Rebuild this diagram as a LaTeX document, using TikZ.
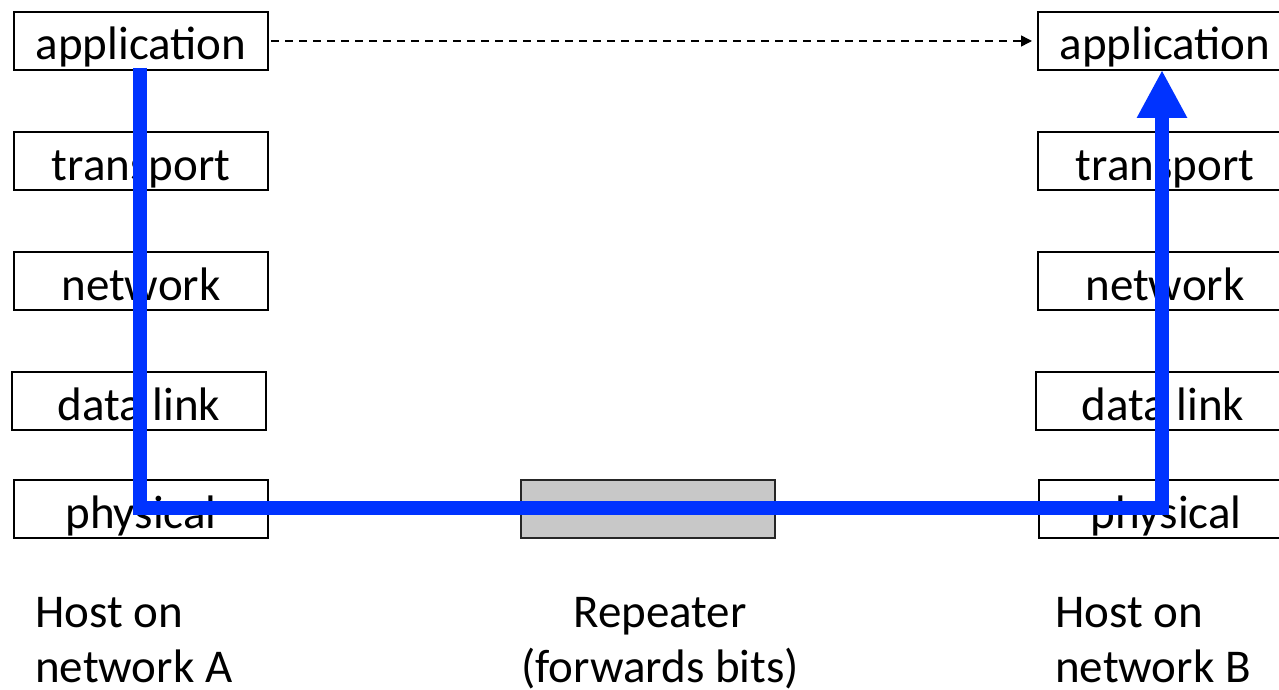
\documentclass[tikz,border=0pt]{standalone}
\usepackage{fontspec}
\setmainfont{Carlito}
\usetikzlibrary{arrows.meta}
\definecolor{flowblue}{HTML}{0033FF}
\definecolor{repgray}{HTML}{C8C8C8}
\tikzset{
  layer/.style={draw=black, line width=2pt, inner sep=0pt, minimum width=254pt, minimum height=58pt,
    text height=46pt, text depth=8pt, font=\fontsize{47}{55}\selectfont},
  repbox/.style={draw=black!85, fill=repgray, line width=2pt, minimum width=254pt, minimum height=58pt, inner sep=0pt},
  caption/.style={inner sep=0pt, font=\fontsize{47}{55}\selectfont},
  flow/.style={draw=flowblue, line width=14pt, line join=miter},
  peer/.style={draw=black, line width=1.5pt, dash pattern=on 8pt off 6pt, -{Triangle[width=11pt,length=11pt]}}
}
\begin{document}
\begin{tikzpicture}[x=1pt,y=-1pt]
\clip (0,0) rectangle (1279,690);
\fill[white] (0,0) rectangle (1279,690);
% host A
\node[layer] (appA) at (141,41) {application};
\node[layer] (traA) at (141,161) {transport};
\node[layer] (netA) at (141,281) {network};
\node[layer] (dlA) at (139,401) {data link};
\node[layer] (phyA) at (141,509) {physical};
% host B
\node[layer] (appB) at (1165,41) {application};
\node[layer] (traB) at (1165,161) {transport};
\node[layer] (netB) at (1165,281) {network};
\node[layer] (dlB) at (1163,401) {data link};
\node[layer] (phyB) at (1166,509) {physical};
% repeater
\node[repbox] (rep) at (648,509) {};
% captions
\node[caption, align=left, anchor=north west] (capA) at (35,597) {Host on\\network A};
\node[caption, align=center, anchor=north] (capR) at (660,597) {Repeater\\(forwards bits)};
\node[caption, align=left, anchor=north west] (capB) at (1055,597) {Host on\\network B};
% peer dashed arrow
\draw[peer] (appA.east) ++(2,0) coordinate (dS) -- ([xshift=-5pt]appB.west);
% data flow
\coordinate (fS) at (140,68);
\coordinate (fE) at (1162,70);
\draw[flow, -{Triangle[width=47pt,length=48pt]}] (fS) |- ([yshift=1pt]rep.center) -| (fE);
\end{tikzpicture}
\end{document}
